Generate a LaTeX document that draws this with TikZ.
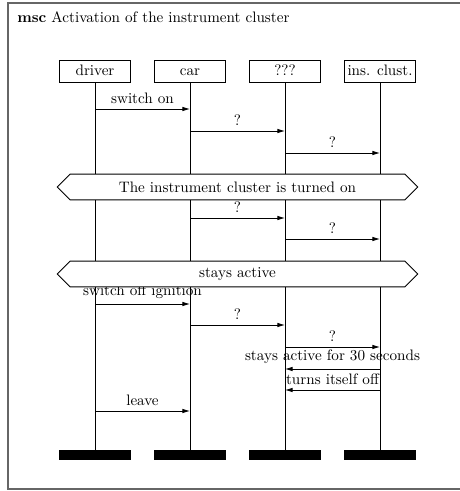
\documentclass[tikz,border=0pt]{standalone}
\usetikzlibrary{arrows.meta,shapes.symbols,positioning}

\tikzset{
	inst/.style={draw,line width=0.6pt,minimum width=47pt,minimum height=15pt,inner sep=1pt,text height=1.5ex,text depth=0.25ex},
	endbar/.style={fill=black,minimum width=47pt,minimum height=6.6pt,inner sep=0pt},
	life/.style={line width=0.6pt},
	msg/.style={-{Latex[length=5pt,width=3pt]},line width=0.55pt},
	cond/.style={draw,line width=0.6pt,fill=white,shape=signal,signal to=west and east,signal pointer angle=90,minimum width=238pt,minimum height=17pt,inner sep=1pt}
}

\begin{document}
\begin{tikzpicture}[x=0.66pt,y=-0.66pt]
	\useasboundingbox (0,0) rectangle (459,491);
	\draw[gray!80!black,line width=1pt] (470,3) -| (8,489) -- (470,489);
	\node[anchor=west,inner sep=0pt] (title) at (17,17) {\textbf{msc} Activation of the instrument cluster};

	\foreach \i/\x/\t in {driver/95/driver,car/190/car,unk/285/???,ins/380/ins. clust.} {
		\node[inst] (\i) at (\x,71.5) {\t};
		\node[endbar] (\i end) at (\x,455) {};
		\draw[life] (\i) -- (\i end);
	}

	\foreach \y/\a/\b/\t in {109/driver/car/switch on,131/car/unk/?,153/unk/ins/?,218/car/unk/?,239/unk/ins/?,304/driver/car/switch off ignition,325/car/unk/?,347/unk/ins/?,369/ins/unk/stays active for 30 seconds,390/ins/unk/turns itself off,411/driver/car/leave}
		\draw[msg] (\a.south |- 0,\y) -- node[above]{\t} (\b.south |- 0,\y);

	\node[cond] (on) at (237.5,187) {The instrument cluster is turned on};
	\node[cond] (active) at (237.5,274) {stays active};
\end{tikzpicture}
\end{document}
